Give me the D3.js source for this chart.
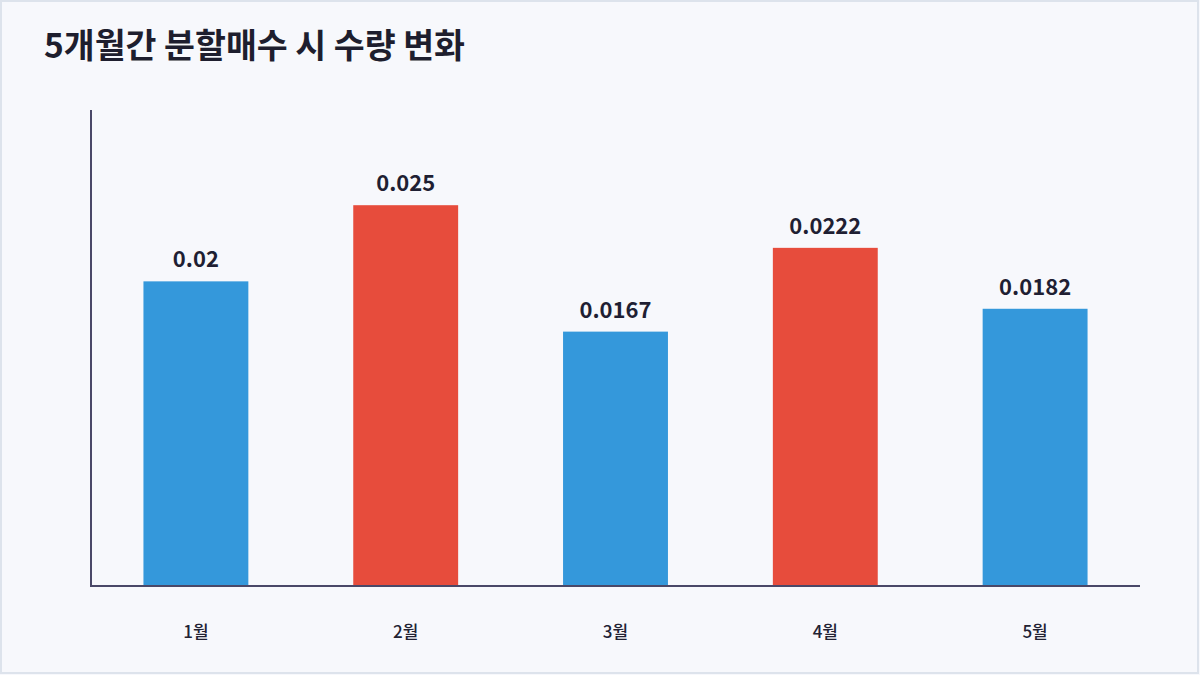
<!DOCTYPE html>
<html><head><meta charset="utf-8">
<script src="https://cdn.jsdelivr.net/npm/d3@7"></script>
<style>
html,body{margin:0;padding:0;background:#f7f8fc;}
svg{display:block;}
text{font-family:"Noto Sans CJK KR","Noto Sans",sans-serif;}
</style></head>
<body>
<svg id="chart" width="1200" height="675"></svg>
<script>
const title = "5개월간 분할매수 시 수량 변화";
const months = ["1월","2월","3월","4월","5월"];
const values = [0.02, 0.025, 0.0167, 0.0222, 0.0182];
const valueLabels = ["0.02","0.025","0.0167","0.0222","0.0182"];
const highlight = [false, true, false, true, false];

const svg = d3.select("#chart");
svg.append("rect").attr("x",1).attr("y",1).attr("width",1197).attr("height",672)
  .attr("fill","#f7f8fc").attr("stroke","#dde3ec").attr("stroke-width",2);

svg.append("text").attr("x",44).attr("y",58).text(title)
  .attr("font-size",33.6).attr("font-weight",700).attr("fill","#1e1e2e");

const m = {left:91, right:1140, top:110, bottom:586};
const x = d3.scaleBand().domain(months).range([m.left, m.right]).paddingInner(0.5).paddingOuter(0.25);
const y = d3.scaleLinear().domain([0, d3.max(values)*1.25]).range([m.bottom, m.top]);

const data = months.map((mo,i)=>({mo, v:values[i], lab:valueLabels[i], hi:highlight[i]}));

svg.selectAll("rect.bar").data(data).join("rect").attr("class","bar")
  .attr("x",d=>x(d.mo)).attr("width",x.bandwidth())
  .attr("y",d=>y(d.v)).attr("height",d=>m.bottom-y(d.v))
  .attr("fill",d=>d.hi?"#e74c3c":"#3498db");

svg.selectAll("text.val").data(data).join("text").attr("class","val")
  .attr("x",d=>x(d.mo)+x.bandwidth()/2).attr("y",d=>y(d.v)-14)
  .attr("text-anchor","middle").attr("font-size",22).attr("font-weight",700)
  .attr("fill","#1f1f33").text(d=>d.lab);

// axes
svg.append("line").attr("x1",m.left).attr("x2",m.left).attr("y1",m.top).attr("y2",m.bottom)
  .attr("stroke","#4a4868").attr("stroke-width",2);
svg.append("line").attr("x1",m.left-1).attr("x2",m.right).attr("y1",m.bottom).attr("y2",m.bottom)
  .attr("stroke","#4a4868").attr("stroke-width",2);

const xAxis = svg.append("g").attr("transform",`translate(0,${m.bottom})`)
  .call(d3.axisBottom(x).tickSize(0).tickPadding(0));
xAxis.select(".domain").remove();
xAxis.selectAll("text").attr("y",52).attr("dy",0).attr("font-size",17).attr("font-weight",500)
  .attr("fill","#222233").attr("font-family","\"Noto Sans CJK KR\",\"Noto Sans\",sans-serif");
</script>
</body></html>
